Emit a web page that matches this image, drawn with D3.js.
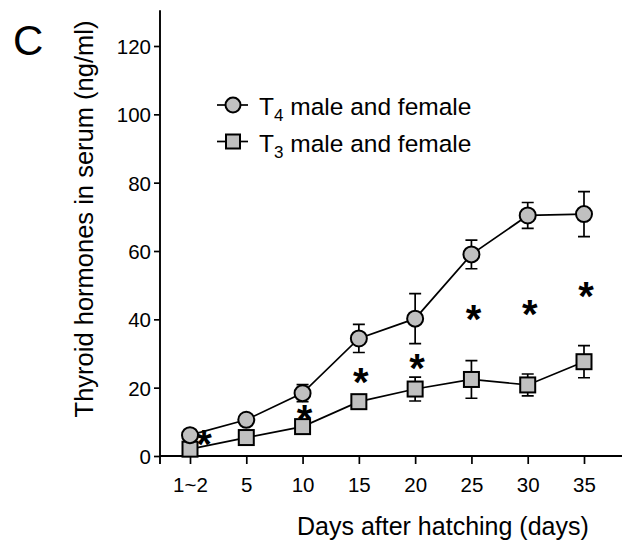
<!DOCTYPE html>
<html>
<head>
<meta charset="utf-8">
<script src="https://cdn.jsdelivr.net/npm/d3@7"></script>
<style>
  body { margin: 0; background: #fff; }
  svg text { font-family: "Liberation Sans", Arial, sans-serif; fill: #000; }
</style>
</head>
<body>
<div id="chart"></div>
<script>
// days after hatching
var days = ["1~2", "5", "10", "15", "20", "25", "30", "35"];

// T4 (circles) mean and SE, ng/ml
var t4Mean = [6.1, 10.6, 18.4, 34.4, 40.2, 59.0, 70.4, 70.8];
var t4Err  = [0.8, 1.0, 2.5, 4.1, 7.3, 4.2, 3.8, 6.6];

// T3 (squares) mean and SE
var t3Mean = [2.0, 5.4, 8.6, 15.9, 19.6, 22.4, 20.8, 27.6];
var t3Err  = [0.5, 0.8, 1.2, 1.2, 3.5, 5.5, 3.2, 4.7];

// where the significance stars sit (value units)
var starLevel = [5.2, null, 12.5, 23.5, 27.5, 42.0, 43.3, 48.6];

var yTicks = [0, 20, 40, 60, 80, 100, 120];

var width = 625, height = 544;
var grey = "#c0c0c0";

var svg = d3.select("#chart").append("svg")
    .attr("width", width)
    .attr("height", height);

var x = d3.scalePoint().domain(days).range([190, 584]);
var y = d3.scaleLinear().domain([0, 120]).range([456, 46]);

// panel letter
svg.append("text")
    .attr("x", 13).attr("y", 55)
    .style("font-size", "42px")
    .text("C");

// y axis
var yAxis = svg.append("g")
    .attr("transform", "translate(160,0)")
    .call(d3.axisLeft(y).tickValues(yTicks).tickSize(6).tickPadding(3).tickSizeOuter(0));
yAxis.select(".domain").remove();
yAxis.selectAll("line").attr("stroke", "#000").attr("stroke-width", 1.7);
yAxis.selectAll("text").style("font-size", "20.5px").attr("dy", "0.36em");
svg.append("line")
    .attr("x1", 160).attr("x2", 160)
    .attr("y1", y(130.5)).attr("y2", y(0) + 8)
    .attr("stroke", "#000").attr("stroke-width", 1.9);

// x axis
var xAxis = svg.append("g")
    .attr("transform", "translate(0," + y(0) + ")")
    .call(d3.axisBottom(x).tickSize(8).tickSizeOuter(0));
xAxis.select(".domain").remove();
xAxis.selectAll("line").attr("stroke", "#000").attr("stroke-width", 1.7);
xAxis.selectAll("text").style("font-size", "20.5px").attr("y", 21).attr("dy", "0.71em");
svg.append("line")
    .attr("x1", 160).attr("x2", 622)
    .attr("y1", y(0)).attr("y2", y(0))
    .attr("stroke", "#000").attr("stroke-width", 1.9);

// axis titles
svg.append("text")
    .attr("x", 297).attr("y", 535)
    .style("font-size", "25px")
    .text("Days after hatching (days)");

svg.append("text")
    .attr("transform", "translate(93,219) rotate(-90)")
    .attr("text-anchor", "middle")
    .style("font-size", "25.5px")
    .text("Thyroid hormones in serum (ng/ml)");

// significance stars
svg.selectAll(".star")
    .data(starLevel.map(function(v, i) { return { day: days[i], v: v, i: i }; })
        .filter(function(d) { return d.v !== null; }))
    .enter().append("text")
    .attr("class", "star")
    .attr("text-anchor", "middle")
    .attr("x", function(d) { return x(d.day) + (d.i === 0 ? 14 : 2); })
    .attr("y", function(d) { return y(d.v) + 20; })
    .style("font-size", "40px")
    .style("font-weight", "bold")
    .text("*");

function drawSeries(means, errs, shape) {
  var pts = means.map(function(m, i) { return { day: days[i], m: m, e: errs[i] }; });
  var g = svg.append("g");

  g.selectAll(".err").data(pts).enter().append("path")
      .attr("fill", "none").attr("stroke", "#000").attr("stroke-width", 1.7)
      .attr("d", function(d) {
        var cx = x(d.day), t = y(d.m + d.e), b = y(d.m - d.e);
        return "M" + (cx - 6) + "," + t + "H" + (cx + 6) +
               "M" + cx + "," + t + "V" + b +
               "M" + (cx - 6) + "," + b + "H" + (cx + 6);
      });

  g.append("path").datum(pts)
      .attr("fill", "none").attr("stroke", "#000").attr("stroke-width", 1.7)
      .attr("d", d3.line().x(function(d) { return x(d.day); }).y(function(d) { return y(d.m); }));

  if (shape === "circle") {
    g.selectAll(".mk").data(pts).enter().append("circle")
        .attr("cx", function(d) { return x(d.day); })
        .attr("cy", function(d) { return y(d.m); })
        .attr("r", 8)
        .attr("fill", grey).attr("stroke", "#000").attr("stroke-width", 2);
  } else {
    g.selectAll(".mk").data(pts).enter().append("rect")
        .attr("x", function(d) { return x(d.day) - 7.5; })
        .attr("y", function(d) { return y(d.m) - 7.5; })
        .attr("width", 15).attr("height", 15)
        .attr("fill", grey).attr("stroke", "#000").attr("stroke-width", 2);
  }
}

drawSeries(t3Mean, t3Err, "square");
drawSeries(t4Mean, t4Err, "circle");

// legend
var legend = [
  { sub: "4", shape: "circle", y: 105 },
  { sub: "3", shape: "square", y: 141.5 }
];
legend.forEach(function(l) {
  svg.append("line")
      .attr("x1", 217).attr("x2", 248).attr("y1", l.y).attr("y2", l.y)
      .attr("stroke", "#000").attr("stroke-width", 1.7);
  if (l.shape === "circle") {
    svg.append("circle").attr("cx", 233).attr("cy", l.y).attr("r", 7.5)
        .attr("fill", grey).attr("stroke", "#000").attr("stroke-width", 2);
  } else {
    svg.append("rect").attr("x", 226).attr("y", l.y - 7).attr("width", 14).attr("height", 14)
        .attr("fill", grey).attr("stroke", "#000").attr("stroke-width", 2);
  }
  var t = svg.append("text").attr("x", 259).attr("y", l.y + 10).style("font-size", "24.5px");
  t.append("tspan").text("T");
  t.append("tspan").attr("dy", 6).style("font-size", "17px").text(l.sub);
  t.append("tspan").attr("dy", -6).text(" male and female");
});
</script>
</body>
</html>
